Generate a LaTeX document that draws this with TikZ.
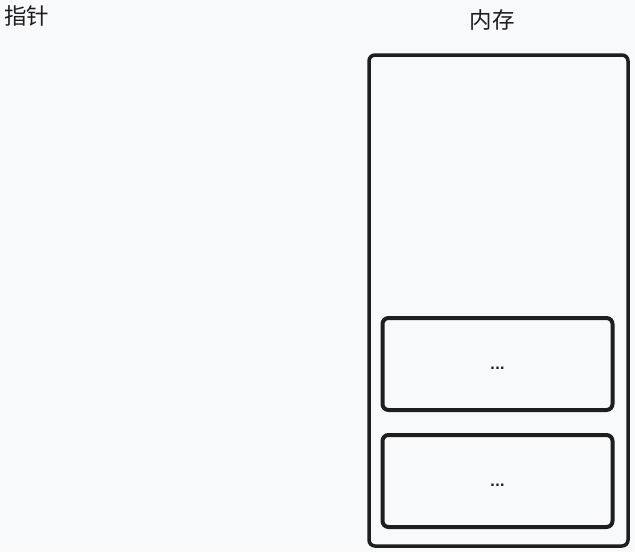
\documentclass[tikz,border=0pt]{standalone}
\usepackage{fontspec}
\newfontfamily\cjk{Noto Sans CJK SC}
\newfontfamily\dotfont{DejaVu Sans}
\definecolor{bg}{HTML}{F8F9FB}
\definecolor{ink}{HTML}{1E1E1E}
\begin{document}
\begin{tikzpicture}[x=1pt,y=-1pt,
  box/.style={draw=ink,rounded corners=6pt,line width=3.5pt},
  inner/.style={draw=ink,rounded corners=6pt,line width=4pt},
  lbl/.style={font=\cjk\fontsize{22.5}{25}\selectfont,text=ink,inner sep=0pt},
  dots/.style={font=\dotfont\bfseries\fontsize{13}{15}\selectfont,text=ink,inner sep=0pt}]
\fill[bg] (0,0) rectangle (635,552);
\useasboundingbox (0,0) rectangle (635,552);
\node[lbl] (ptr) at (27,16) {指针};
\node[lbl] (mem) at (492,20) {内存};
\draw[box] (369,55) rectangle (628,546);
\node[inner,minimum width=230pt,minimum height=92pt] (a) at (497.5,364) {};
\node[inner,minimum width=230pt,minimum height=92pt] (b) at (497.5,481) {};
\node[dots] at ([yshift=-4.5pt]a.center) {...};
\node[dots] at ([yshift=-4pt]b.center) {...};
\end{tikzpicture}
\end{document}
